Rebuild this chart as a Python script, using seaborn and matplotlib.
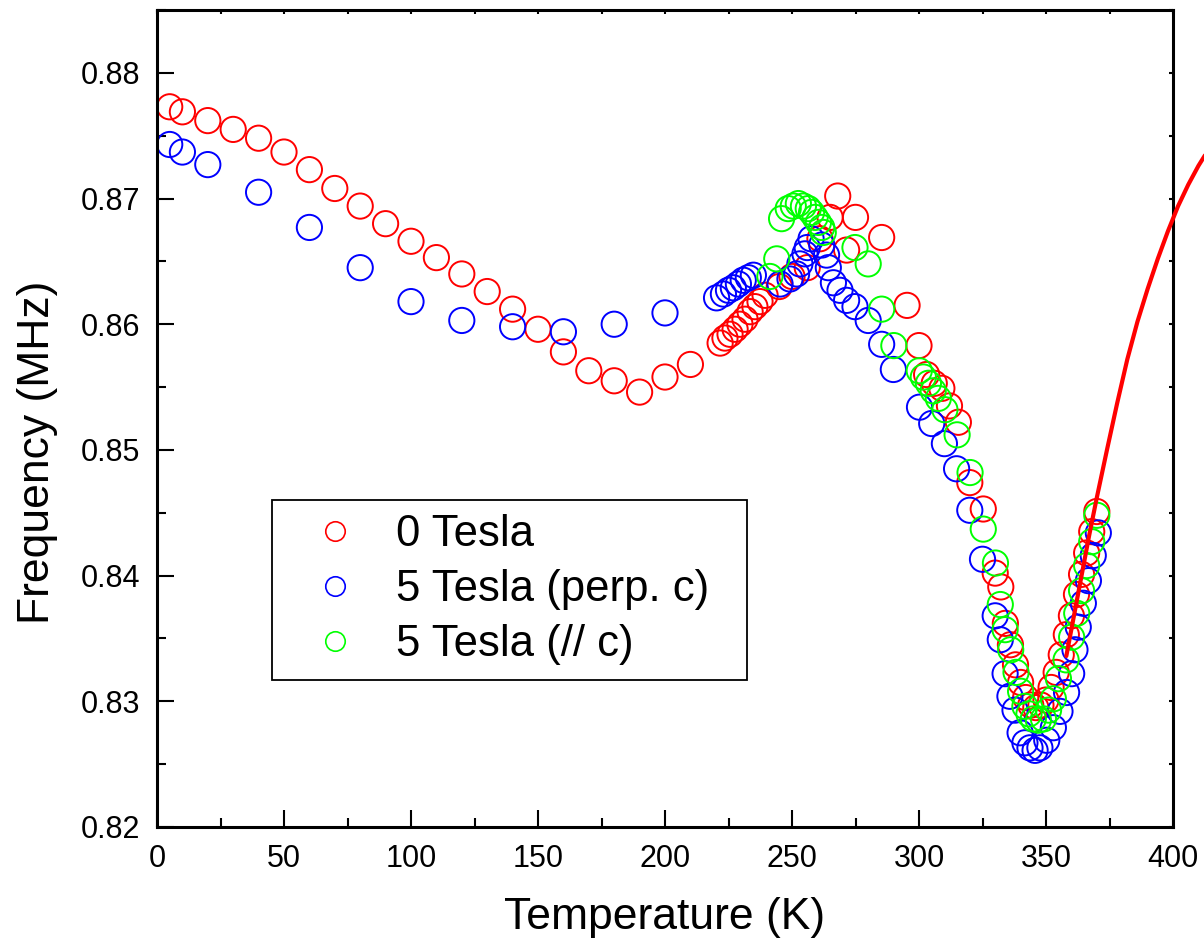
import matplotlib
matplotlib.use('Agg')
import numpy as np
import pandas as pd
import seaborn as sns
import matplotlib.pyplot as plt
from matplotlib.lines import Line2D
from matplotlib.ticker import MultipleLocator, FormatStrFormatter

# 0 Tesla
t_0t = [5, 10, 20, 30, 40, 50, 60, 70, 80, 90, 100, 110, 120, 130, 140, 150, 160, 170, 180, 190,
        200, 210, 221.7, 223.6, 225.6, 227.6, 229.5, 231.5, 233.5, 235.4, 237.4, 239.4, 245, 250,
        256, 261, 265, 268, 271.5, 275, 285.3, 295.3, 300, 303, 306, 309, 312, 315.5, 320, 325.3,
        330, 332.2, 334, 336, 338, 340, 342, 344, 346, 348, 350, 352, 354, 356, 358, 360, 362,
        364, 366, 368, 370]
f_0t = [0.8773, 0.8769, 0.8762, 0.8755, 0.8748, 0.8737, 0.8723, 0.8708, 0.8694, 0.8680, 0.8666,
        0.8653, 0.8640, 0.8626, 0.8612, 0.8596, 0.8578, 0.8563, 0.8555, 0.8546, 0.8558, 0.8568,
        0.8585, 0.8589, 0.8592, 0.8596, 0.8600, 0.8604, 0.8610, 0.8614, 0.8618, 0.8623, 0.8630,
        0.8638, 0.8645, 0.8668, 0.8685, 0.8702, 0.8659, 0.8685, 0.8669, 0.8615, 0.8583, 0.8560,
        0.8553, 0.8549, 0.8535, 0.8522, 0.8474, 0.8453, 0.8402, 0.8391, 0.8362, 0.8345, 0.8329,
        0.8315, 0.8303, 0.8297, 0.8295, 0.8297, 0.8301, 0.8311, 0.8323, 0.8337, 0.8353, 0.8368,
        0.8385, 0.8401, 0.8418, 0.8435, 0.8451]

# 5 Tesla, perpendicular to c
t_5perp = [5, 10, 20, 40, 60, 80, 100, 120, 140, 160, 180, 200, 220.3, 223, 225, 226.9, 228.9,
           230.8, 232.8, 234.8, 245.3, 249.2, 251.8, 253.1, 255.1, 256, 257.5, 261.7, 263.6, 264.3,
           266.3, 268.9, 271.5, 274.8, 280, 285.3, 289.9, 300.2, 305, 310, 314.8, 320, 325,
           330, 332, 333.9, 335.8, 337.8, 339.8, 341.7, 343.7, 345.7, 347.6, 350.3, 352.9, 355.5,
           358.1, 360.1, 361.4, 362.7, 364.7, 366.7, 368.6, 370.6]
f_5perp = [0.8743, 0.8737, 0.8727, 0.8705, 0.8677, 0.8645, 0.8618, 0.8603, 0.8598, 0.8594, 0.8600,
           0.8609, 0.8621, 0.8624, 0.8627, 0.8629, 0.8632, 0.8635, 0.8637, 0.8639, 0.8632, 0.8636,
           0.8640, 0.8648, 0.8656, 0.8661, 0.8668, 0.8663, 0.8655, 0.8645, 0.8633, 0.8627, 0.8619,
           0.8614, 0.8603, 0.8584, 0.8564, 0.8534, 0.8521, 0.8505, 0.8485, 0.8452, 0.8413, 0.8368,
           0.8349, 0.8322, 0.8304, 0.8293, 0.8275, 0.8267, 0.8263, 0.8261, 0.8263, 0.8269, 0.8279,
           0.8292, 0.8307, 0.8322, 0.8341, 0.8359, 0.8378, 0.8396, 0.8416, 0.8434]

# 5 Tesla, parallel to c
t_5par = [241.3, 244, 245.9, 248.5, 250.5, 252.5, 254.5, 256.4, 257.7, 259.1, 260.4, 261.7, 262.3,
          274.8, 280, 285.3, 290.1, 300.1, 301.7, 303.7, 305.6, 307.6, 310.2, 315, 320.1, 325.3,
          330.1, 332, 333.9, 336.1, 338.2, 340, 341.7, 343.3, 345, 347, 349, 351, 352.9, 354.9,
          357.9, 360.1, 362.1, 364, 366, 368, 370]
f_5par = [0.8638, 0.8652, 0.8684, 0.8692, 0.8694, 0.8696, 0.8694, 0.8692, 0.8689, 0.8685, 0.8681,
          0.8677, 0.8673, 0.8661, 0.8648, 0.8612, 0.8583, 0.8563, 0.8558, 0.8553, 0.8547, 0.8541,
          0.8532, 0.8512, 0.8482, 0.8437, 0.8410, 0.8377, 0.8357, 0.8341, 0.8323, 0.8308, 0.8296,
          0.8290, 0.8286, 0.8285, 0.8286, 0.8293, 0.8302, 0.8318, 0.8333, 0.8351, 0.8370, 0.8388,
          0.8408, 0.8427, 0.8448]

# fitted curve (red line)
t_fit = [358, 361, 364, 367, 370, 374, 378, 382, 386, 390, 394, 398, 402, 406, 410, 414]
f_fit = [0.8336, 0.8368, 0.8400, 0.8432, 0.8462, 0.8500, 0.8537, 0.8572, 0.8602, 0.8628, 0.8652,
         0.8674, 0.8694, 0.8711, 0.8726, 0.8739]

labels = ['0 Tesla', '5 Tesla (perp. c)', '5 Tesla (// c)']
colors = ['#ff0000', '#0000ff', '#00ff00']

sns.set_style('ticks')
plt.rcParams['font.family'] = ['Liberation Sans', 'DejaVu Sans']
plt.rcParams.update({'text.color': 'black', 'axes.labelcolor': 'black',
                     'xtick.color': 'black', 'ytick.color': 'black'})

W, H = 1204, 949
fig = plt.figure(figsize=(W / 100, H / 100), dpi=100)
ax = fig.add_axes([157 / W, 1 - 827 / H, (1173 - 157) / W, (827 - 10) / H])

for t, f, c in zip([t_0t, t_5perp, t_5par], [f_0t, f_5perp, f_5par], colors):
    sns.scatterplot(x=t, y=f, ax=ax, s=330, marker='o', color=c, linewidth=1.4, legend=False)
    pts = ax.collections[-1]
    pts.set_facecolor('none')
    pts.set_edgecolor(c)

sns.lineplot(x=t_fit, y=f_fit, ax=ax, color='#ff0000', lw=3, clip_on=False, zorder=5)

ax.set_xlim(0, 400)
ax.set_ylim(0.82, 0.885)
ax.xaxis.set_major_locator(MultipleLocator(50))
ax.xaxis.set_minor_locator(MultipleLocator(25))
ax.yaxis.set_major_locator(MultipleLocator(0.01))
ax.yaxis.set_minor_locator(MultipleLocator(0.005))
ax.yaxis.set_major_formatter(FormatStrFormatter('%.2f'))
ax.tick_params(which='major', direction='in', length=12, width=1.5, labelsize=22, pad=12)
ax.tick_params(which='minor', direction='in', length=6.5, width=1.5)
for sp in ax.spines.values():
    sp.set_linewidth(2.2)
    sp.set_color('black')

# small ticks on the top and right frame
top = ax.secondary_xaxis('top')
top.set_xticks(np.arange(0, 401, 25))
top.set_xticklabels([])
top.tick_params(direction='in', length=3, width=1.5)
right = ax.secondary_yaxis('right')
right.set_yticks(np.arange(0.82, 0.8851, 0.005))
right.set_yticklabels([])
right.tick_params(direction='in', length=3, width=1.5)

ax.set_xlabel('Temperature (K)', fontsize=32, labelpad=17)
ax.set_ylabel('Frequency (MHz)', fontsize=32)
ax.yaxis.set_label_coords(-0.097, (827 - 452) / 817)

handles = [Line2D([], [], ls='none', marker='o', ms=14, mfc='none', mec=c, mew=1.2) for c in colors]
x0 = (272 - 157) / 1016
y0 = (827 - 672) / 817
leg = ax.legend(handles, labels, loc='upper left', mode='expand',
                bbox_to_anchor=(x0, y0, 475 / 1016, 172 / 817), borderaxespad=0,
                fontsize=31.5, frameon=True, fancybox=False, edgecolor='black',
                handlelength=2.2, handletextpad=0.3, labelspacing=0.32, borderpad=0.33)
leg.get_frame().set_linewidth(1.3)
leg.get_frame().set_alpha(1)

fig.savefig('out.png', dpi=100)
